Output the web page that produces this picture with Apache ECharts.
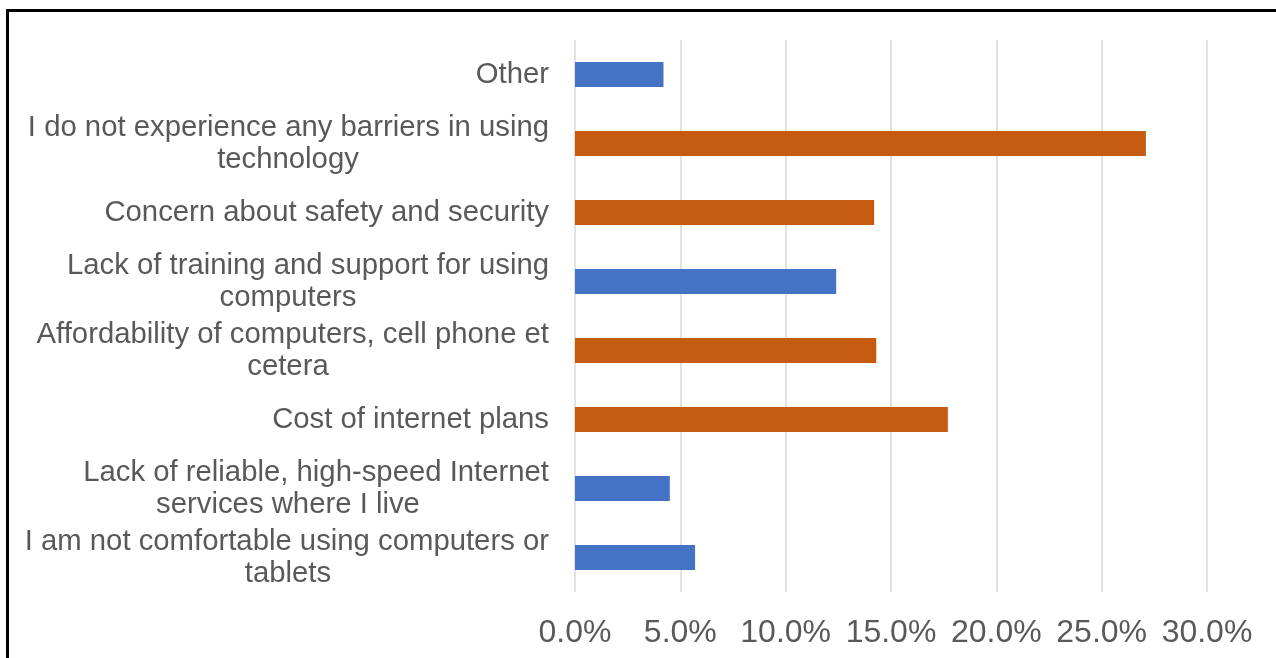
<!DOCTYPE html>
<html>
<head>
<meta charset="utf-8">
<title>Barriers in using technology</title>
<script src="https://cdn.jsdelivr.net/npm/echarts@6/dist/echarts.min.js"></script>
<style>
  html, body { margin: 0; padding: 0; background: #ffffff; }
  #chart { width: 1276px; height: 658px; }
</style>
</head>
<body>
<div id="chart"></div>
<script>
// Survey answers, listed top to bottom
const categories = [
  'Other',
  'I do not experience any barriers in using technology',
  'Concern about safety and security',
  'Lack of training and support for using computers',
  'Affordability of computers, cell phone et cetera',
  'Cost of internet plans',
  'Lack of reliable, high-speed Internet services where I live',
  'I am not comfortable using computers or tablets'
];

// Share of respondents (%), split into the two colour groups
const blueValues   = [4.2, null, null, 12.4, null, null, 4.5, 5.7];
const orangeValues = [null, 27.1, 14.2, null, 14.3, 17.7, null, null];

// Axis ticks
const axisMin = 0;
const axisMax = 30;
const axisStep = 5;

const FONT = '"Liberation Sans", Arial, Helvetica, sans-serif';
const TEXT_COLOR = '#595959';
const LABEL_SIZE = 29.3;
const LINE_HEIGHT = 32;
const WRAP_WIDTH = 545;   // longest line a category label may take
const LABEL_BOX = 522;    // width of the label block; follow-on lines are centred in it

const measureCtx = document.createElement('canvas').getContext('2d');
measureCtx.font = LABEL_SIZE + 'px ' + FONT;

function wrapWords(text) {
  const words = text.split(' ');
  const lines = [];
  let cur = '';
  words.forEach(function (w) {
    const trial = cur ? cur + ' ' + w : w;
    if (cur && measureCtx.measureText(trial).width > WRAP_WIDTH) {
      lines.push(cur);
      cur = w;
    } else {
      cur = trial;
    }
  });
  if (cur) lines.push(cur);
  return lines;
}

const chart = echarts.init(document.getElementById('chart'), null, { renderer: 'canvas' });

const option = {
  backgroundColor: '#ffffff',
  animation: false,
  textStyle: { fontFamily: FONT },
  grid: { left: 575, right: 69, top: 40, bottom: 66, containLabel: false },
  xAxis: {
    type: 'value',
    min: axisMin,
    max: axisMax,
    interval: axisStep,
    axisLine: { show: false },
    axisTick: { show: false },
    splitLine: { show: true, lineStyle: { color: '#d9d9d9', width: 1.5 } },
    axisLabel: {
      color: TEXT_COLOR,
      fontSize: 32,
      fontFamily: FONT,
      margin: 25,
      formatter: function (v) { return v.toFixed(1) + '%'; }
    }
  },
  yAxis: {
    type: 'category',
    data: categories,
    inverse: true,
    axisLine: { show: false },
    axisTick: { show: false },
    splitLine: { show: false },
    axisLabel: {
      margin: 26,
      align: 'right',
      width: LABEL_BOX,
      overflow: 'none',
      color: TEXT_COLOR,
      fontSize: LABEL_SIZE,
      fontFamily: FONT,
      lineHeight: LINE_HEIGHT,
      formatter: function (v) {
        const lines = wrapWords(v);
        return lines.map(function (l, i) {
          return (i === 0 ? '{first|' : '{rest|') + l + '}';
        }).join('\n');
      },
      rich: {
        first: { align: 'right', color: TEXT_COLOR, fontSize: LABEL_SIZE, fontFamily: FONT, lineHeight: LINE_HEIGHT },
        rest:  { align: 'center', color: TEXT_COLOR, fontSize: LABEL_SIZE, fontFamily: FONT, lineHeight: LINE_HEIGHT }
      }
    }
  },
  series: [
    {
      name: 'Blue group',
      type: 'bar',
      data: blueValues,
      barWidth: '36%',
      barGap: '-100%',
      itemStyle: { color: '#4472c4' }
    },
    {
      name: 'Orange group',
      type: 'bar',
      data: orangeValues,
      barWidth: '36%',
      barGap: '-100%',
      itemStyle: { color: '#c55a11' }
    }
  ],
  graphic: [
    {
      type: 'rect',
      z: 100,
      silent: true,
      shape: { x: 7.5, y: 10.5, width: 1300, height: 700 },
      style: { fill: null, stroke: '#000000', lineWidth: 3 }
    }
  ]
};

chart.setOption(option);
</script>
</body>
</html>
